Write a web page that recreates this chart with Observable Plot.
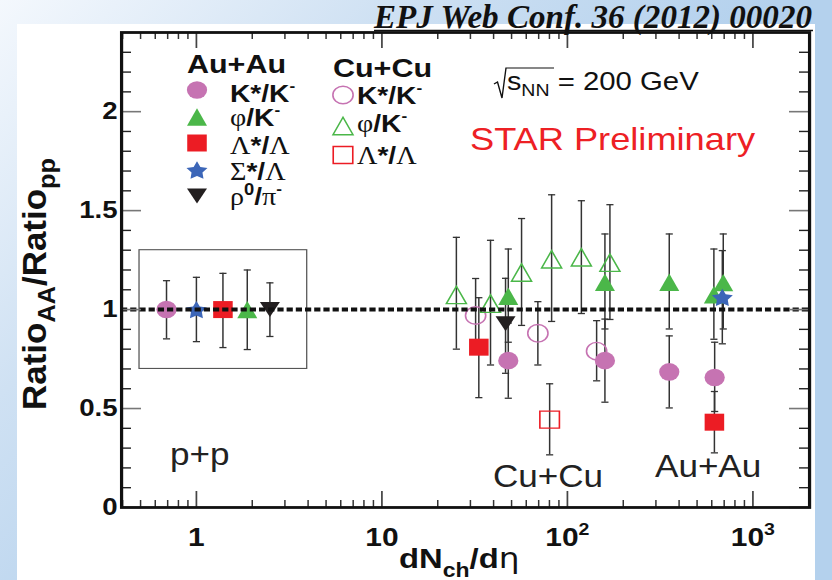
<!DOCTYPE html>
<html>
<head>
<meta charset="utf-8">
<script src="https://cdn.jsdelivr.net/npm/d3@7"></script>
<script src="https://cdn.jsdelivr.net/npm/@observablehq/plot@0.6"></script>
<style>
  html, body { margin: 0; padding: 0; }
  body {
    width: 832px; height: 580px; overflow: hidden; position: relative;
    background: linear-gradient(135deg, #f4f8fd 0%, #cfe1f3 28%, #b4d1ed 55%, #b4d1ed 100%);
  }
  #sheet { position: absolute; left: 17px; top: 24px; width: 798px; height: 556px; background: #fff; }
  #stage { position: absolute; left: 0; top: 0; height: 580px; transform-origin: 0 0; }
  #stage > svg { position: absolute; left: 0; top: 0; }
  #cite { position: absolute; left: 0; top: 0; }
</style>
</head>
<body>
<div id="sheet"></div>
<div id="stage"></div>
<svg id="cite" width="832" height="40"></svg>
<script>
// ---------------- data: (particle ratio in A+A) / (same ratio in p+p) vs dNch/deta ----------------

// p+p reference points (unity by construction, with their p+p uncertainties)
const ppSpecies = ["K*/K-", "Σ*/Λ", "Λ*/Λ", "φ/K-", "ρ0/π-"];
const ppX  = [0.69, 1.0, 1.39, 1.88, 2.49];
const ppY  = [1, 1, 1, 1, 1];
const ppLo = [0.852, 0.838, 0.808, 0.798, 0.864];
const ppHi = [1.146, 1.163, 1.183, 1.200, 1.135];

// Au+Au (filled markers)
const auKstarX  = [48.0, 159.3, 354, 622];
const auKstarY  = [0.742, 0.742, 0.685, 0.657];
const auKstarLo = [0.552, 0.532, 0.503, 0.485];
const auKstarHi = [0.932, 0.952, 0.867, 0.835];

const auPhiX  = [48.0, 159.3, 354, 616, 692];
const auPhiY  = [1.067, 1.138, 1.138, 1.075, 1.136];
const auPhiLo = [0.835, 0.902, 0.902, 0.850, 0.902];
const auPhiHi = [1.306, 1.382, 1.382, 1.306, 1.382];

const auLambdaX  = [33.3, 620];
const auLambdaY  = [0.810, 0.431];
const auLambdaLo = [0.555, 0.276];
const auLambdaHi = [1.060, 0.586];

const auSigmaX  = [684];
const auSigmaY  = [1.062];
const auSigmaLo = [0.827];
const auSigmaHi = [1.298];

const auRhoX  = [46.4];
const auRhoY  = [0.928];
const auRhoLo = [0.678];
const auRhoHi = [1.158];

// Cu+Cu (open markers)
const cuKstarX  = [32.0, 69.3, 143.7];
const cuKstarY  = [0.970, 0.880, 0.790];
const cuKstarLo = [0.780, 0.720, 0.640];
const cuKstarHi = [1.157, 1.040, 0.944];

const cuPhiX  = [25.2, 38.5, 56.6, 82.2, 118.9, 169.5];
const cuPhiY  = [1.074, 1.030, 1.187, 1.254, 1.264, 1.237];
const cuPhiLo = [0.800, 0.720, 0.920, 0.940, 0.980, 0.950];
const cuPhiHi = [1.365, 1.350, 1.460, 1.580, 1.550, 1.530];

const cuLambdaX  = [80.2];
const cuLambdaY  = [0.444];
const cuLambdaLo = [0.266];
const cuLambdaHi = [0.625];

// region of the p+p points
const ppBoxX = [0.494, 3.96];
const ppBoxY = [0.70, 1.30];

// axis ticks
const xTickValues = [1, 10, 100, 1000];
const xTickLabels = ["1", "10", "10^2", "10^3"];
const yTickValues = [0, 0.5, 1, 1.5, 2];
const yTickLabels = ["0", "0.5", "1", "1.5", "2"];

// ---------------- geometry ----------------
const S = 1.15;                       // the figure is drawn slightly widened
const W = 832 / S, H = 580;
const mL = 121 / S, mR = 23 / S, mT = 32, mB = 73;
const frameW = W - mL - mR, frameH = H - mT - mB;
const ux = v => v / S;                // page x -> stage x

// ---------------- marker shapes ----------------
const rOf = s => Math.sqrt(s / Math.PI);
const shape = {
  circle: {draw(c, s) { const r = rOf(s); c.moveTo(r, 0); c.arc(0, 0, r, 0, 2 * Math.PI); c.closePath(); }},
  triangleUp: {draw(c, s) { const r = rOf(s); c.moveTo(0, -r); c.lineTo(r, r); c.lineTo(-r, r); c.closePath(); }},
  triangleDown: {draw(c, s) { const r = rOf(s), h = r * 0.86; c.moveTo(-r, -h); c.lineTo(r, -h); c.lineTo(0, h); c.closePath(); }},
  square: {draw(c, s) { const r = rOf(s); c.rect(-r, -r, 2 * r, 2 * r); }},
  star: {draw(c, s) {
    const R = rOf(s), q = R * 0.52;
    for (let k = 0; k < 10; ++k) {
      const a = -Math.PI / 2 + k * Math.PI / 5, rr = k % 2 ? q : R;
      const px = rr * Math.cos(a), py = rr * Math.sin(a) + R * 0.1;
      k ? c.lineTo(px, py) : c.moveTo(px, py);
    }
    c.closePath();
  }},
  cap: {draw(c, s) { const r = rOf(s); c.moveTo(-r, 0); c.lineTo(r, 0); }}
};

const pink = "#c673b2", green = "#4bb749", red = "#ec1c24", blue = "#3c66b8", black = "#231f20";
const speciesStyle = {
  "K*/K-": {shape: shape.circle, color: pink, r: 8.8},
  "φ/K-":  {shape: shape.triangleUp, color: green, r: 8.7},
  "Λ*/Λ":  {shape: shape.square, color: red, r: 8.5},
  "Σ*/Λ":  {shape: shape.star, color: blue, r: 9.6},
  "ρ0/π-": {shape: shape.triangleDown, color: black, r: 8.7}
};

// ---------------- table ----------------
const rows = [];
ppSpecies.forEach((sp, i) => rows.push({sys: "p+p", sp, x: ppX[i], y: ppY[i], lo: ppLo[i], hi: ppHi[i]}));
function add(sys, sp, xs, ys, lo, hi) {
  xs.forEach((x, i) => rows.push({sys, sp, x, y: ys[i], lo: lo[i], hi: hi[i]}));
}
add("Au+Au", "K*/K-", auKstarX, auKstarY, auKstarLo, auKstarHi);
add("Au+Au", "φ/K-", auPhiX, auPhiY, auPhiLo, auPhiHi);
add("Au+Au", "Λ*/Λ", auLambdaX, auLambdaY, auLambdaLo, auLambdaHi);
add("Au+Au", "Σ*/Λ", auSigmaX, auSigmaY, auSigmaLo, auSigmaHi);
add("Au+Au", "ρ0/π-", auRhoX, auRhoY, auRhoLo, auRhoHi);
add("Cu+Cu", "K*/K-", cuKstarX, cuKstarY, cuKstarLo, cuKstarHi);
add("Cu+Cu", "φ/K-", cuPhiX, cuPhiY, cuPhiLo, cuPhiHi);
add("Cu+Cu", "Λ*/Λ", cuLambdaX, cuLambdaY, cuLambdaLo, cuLambdaHi);

// one dot mark per (system, species)
const groups = d3.groups(rows, d => d.sys, d => d.sp);
const markerMarks = [];
for (const [sys, bySp] of groups) {
  for (const [sp, pts] of bySp) {
    const st = speciesStyle[sp];
    const open = sys === "Cu+Cu";
    markerMarks.push(Plot.dot(pts, {
      x: "x", y: "y", symbol: st.shape, r: st.r,
      fill: open ? "none" : st.color,
      stroke: open ? st.color : "none",
      strokeWidth: open ? 1.4 : 0
    }));
  }
}

// tick positions
const xMinor = [];
for (const dec of [0.1, 1, 10, 100, 1000]) for (let k = 2; k <= 9; ++k) xMinor.push(dec * k);
const xMinorIn = xMinor.filter(v => v > 0.395 && v < 2020);
const yMinor = d3.range(1, 24).map(k => k / 10).filter(v => Math.abs(v * 2 - Math.round(v * 2)) > 1e-6);

const sans = "'Liberation Sans', Arial, Helvetica, sans-serif";
const serif = "'Liberation Serif', 'Times New Roman', serif";

const plot = Plot.plot({
  width: W, height: H,
  marginLeft: mL, marginRight: mR, marginTop: mT, marginBottom: mB,
  style: {background: "transparent", overflow: "visible", fontFamily: sans},
  x: {type: "log", domain: [0.395, 2020]},
  y: {domain: [0, 2.4]},
  marks: [
    // p+p box
    Plot.rect([{x1: ppBoxX[0], x2: ppBoxX[1], y1: ppBoxY[0], y2: ppBoxY[1]}],
      {x1: "x1", x2: "x2", y1: "y1", y2: "y2", fill: "none", stroke: "#555", strokeWidth: 1.1}),
    // error bars
    Plot.ruleX(rows, {x: "x", y1: "lo", y2: "hi", stroke: "#333", strokeWidth: 1.3}),
    Plot.dot(rows, {x: "x", y: "lo", symbol: shape.cap, r: 3.1, stroke: "#333", strokeWidth: 1.3}),
    Plot.dot(rows, {x: "x", y: "hi", symbol: shape.cap, r: 3.1, stroke: "#333", strokeWidth: 1.3}),
    ...markerMarks,
    // unity reference
    Plot.ruleY([1], {stroke: "#111", strokeWidth: 4, strokeDasharray: "5.4,2.6"}),
    // inward ticks: left / right
    Plot.tickY(yMinor, {y: d => d, stroke: "#222", strokeWidth: 1.4, insetRight: frameW - 10 / S}),
    Plot.tickY(yMinor, {y: d => d, stroke: "#222", strokeWidth: 1.4, insetLeft: frameW - 10 / S}),
    Plot.tickY(yTickValues, {y: d => d, stroke: "#777", strokeWidth: 1.6, insetRight: frameW - 20 / S}),
    Plot.tickY(yTickValues, {y: d => d, stroke: "#777", strokeWidth: 1.6, insetLeft: frameW - 20 / S}),
    // inward ticks: bottom / top
    Plot.tickX(xMinorIn, {x: d => d, stroke: "#333", strokeWidth: 1.3, insetTop: frameH - 7}),
    Plot.tickX(xMinorIn, {x: d => d, stroke: "#333", strokeWidth: 1.3, insetBottom: frameH - 7}),
    Plot.tickX(xTickValues, {x: d => d, stroke: "#444", strokeWidth: 1.5, insetTop: frameH - 16}),
    Plot.tickX(xTickValues, {x: d => d, stroke: "#444", strokeWidth: 1.5, insetBottom: frameH - 16}),
    // tick labels
    Plot.axisY({ticks: yTickValues, tickSize: 0, tickPadding: 3.5, label: null,
      tickFormat: d => yTickLabels[yTickValues.indexOf(d)],
      fontSize: 24, fontWeight: "bold", fontFamily: sans, fill: "#111"}),
    Plot.axisX({ticks: xTickValues, tickSize: 0, tickPadding: 20, label: null,
      tickFormat: d => xTickLabels[xTickValues.indexOf(d)],
      fontSize: 26, fontWeight: "bold", fontFamily: sans, fill: "#111"}),
    Plot.frame({stroke: "#111", strokeWidth: 2.8})
  ]
});

// powers of ten on the x axis: write the exponent as a raised digit
d3.select(plot).selectAll("text").each(function () {
  const m = /^(\d+)\^(\d+)$/.exec(this.textContent);
  if (!m) return;
  const t = d3.select(this);
  t.text(null);
  t.append("tspan").text(m[1]);
  t.append("tspan").attr("dy", -11).attr("font-size", 17).text(m[2]);
});

const stage = document.getElementById("stage");
stage.style.width = W + "px";
stage.style.transform = `scaleX(${S})`;
stage.appendChild(plot);

// ---------------- text layer: legend, labels, annotations ----------------
const ov = d3.create("svg").attr("width", W).attr("height", H).style("overflow", "visible");

function rich(x, y, segs, attrs = {}) {
  const t = ov.append("text").attr("x", x).attr("y", y).attr("fill", "#111");
  for (const [k, v] of Object.entries(attrs)) t.attr(k, v);
  let shift = 0;
  for (const s of segs) {
    const sh = s.shift || 0;
    t.append("tspan")
      .attr("dy", sh - shift)
      .attr("font-family", s.font || sans)
      .attr("font-weight", s.weight || "bold")
      .attr("font-size", s.size)
      .text(s.t);
    shift = sh;
  }
  return t;
}

const LF = 24.5, SUP = 15;
const legendText = {
  "K*/K-": [{t: "K*/K", size: LF}, {t: "-", size: SUP, shift: -11}],
  "φ/K-":  [{t: "φ", size: LF, font: serif, weight: "normal"}, {t: "/K", size: LF}, {t: "-", size: SUP, shift: -11}],
  "Λ*/Λ":  [{t: "Λ", size: LF, font: serif, weight: "normal"}, {t: "*/", size: LF}, {t: "Λ", size: LF, font: serif, weight: "normal"}],
  "Σ*/Λ":  [{t: "Σ", size: LF, font: serif, weight: "normal"}, {t: "*/", size: LF}, {t: "Λ", size: LF, font: serif, weight: "normal"}],
  "ρ0/π-": [{t: "ρ", size: LF, font: serif, weight: "normal"}, {t: "0", size: 16, shift: -10},
            {t: "/", size: LF, shift: 0}, {t: "π", size: LF, font: serif, weight: "normal"}, {t: "-", size: SUP, shift: -11}]
};

function swatch(x, y, sp, open) {
  const st = speciesStyle[sp];
  ov.append("path")
    .attr("transform", `translate(${x},${y})`)
    .attr("d", d3.symbol(st.shape, Math.PI * st.r * st.r)())
    .attr("fill", open ? "none" : st.color)
    .attr("stroke", open ? st.color : "none")
    .attr("stroke-width", open ? 1.4 : 0);
}

// Au+Au column
rich(ux(187), 73, [{t: "Au+Au", size: 26.5}]);
const auLegend = ["K*/K-", "φ/K-", "Λ*/Λ", "Σ*/Λ", "ρ0/π-"];
const auRowY = [90, 117, 143, 170, 196];
const auBase = [102, 126, 154, 180, 205];
auLegend.forEach((sp, i) => {
  swatch(ux(197), auRowY[i], sp, false);
  rich(ux(230), auBase[i], legendText[sp]);
});

// Cu+Cu column
rich(ux(333), 77, [{t: "Cu+Cu", size: 26.5}]);
const cuLegend = ["K*/K-", "φ/K-", "Λ*/Λ"];
const cuRowY = [95, 126, 155];
const cuBase = [104, 132, 164];
cuLegend.forEach((sp, i) => {
  swatch(ux(343), cuRowY[i], sp, true);
  rich(ux(357), cuBase[i], legendText[sp]);
});

// collision energy
ov.append("path")
  .attr("d", `M${ux(494)},84 L${ux(497.5)},82 L${ux(502)},98 L${ux(506)},68 H${ux(554)}`)
  .attr("fill", "none").attr("stroke", "#111").attr("stroke-width", 1.2);
rich(ux(507), 90, [{t: "s", size: 25, weight: "normal"}, {t: "NN", size: 17, weight: "normal", shift: 6},
                   {t: " = 200 GeV", size: 25.5, weight: "normal", shift: 0}]);

rich(ux(470), 150, [{t: "STAR Preliminary", size: 31.5, weight: "normal"}], {fill: "#ed2024"});

// system annotations
rich(ux(170), 465, [{t: "p+p", size: 30.5, weight: "normal"}], {fill: "#222"});
rich(ux(493), 487, [{t: "Cu+Cu", size: 30.5, weight: "normal"}], {fill: "#222"});
rich(ux(655), 477, [{t: "Au+Au", size: 30.5, weight: "normal"}], {fill: "#222"});

// axis titles
rich(ux(399), 568, [{t: "dN", size: 28.5}, {t: "ch", size: 20, shift: 9}, {t: "/d", size: 28.5, shift: 0},
                    {t: "η", size: 28.5, font: "'DejaVu Sans', sans-serif", weight: "normal"}]);
rich(0, 0, [{t: "Ratio", size: 29}, {t: "AA", size: 21, shift: 8}, {t: "/Ratio", size: 29, shift: 0},
            {t: "pp", size: 21, shift: 8}],
     {transform: `translate(${ux(46)},${284}) rotate(-90)`, "text-anchor": "middle",
      textLength: 252, lengthAdjust: "spacingAndGlyphs"});

stage.appendChild(ov.node());

// ---------------- reference line at the top of the page ----------------
const cite = d3.select("#cite");
cite.append("text")
  .attr("x", 374).attr("y", 28)
  .attr("font-family", serif).attr("font-style", "italic").attr("font-weight", "bold")
  .attr("font-size", 33).attr("fill", "#111")
  .attr("textLength", 438).attr("lengthAdjust", "spacingAndGlyphs")
  .text("EPJ Web Conf. 36 (2012) 00020");
cite.append("line").attr("x1", 374).attr("x2", 813).attr("y1", 30.5).attr("y2", 30.5)
  .attr("stroke", "#111").attr("stroke-width", 1.4);
</script>
</body>
</html>
